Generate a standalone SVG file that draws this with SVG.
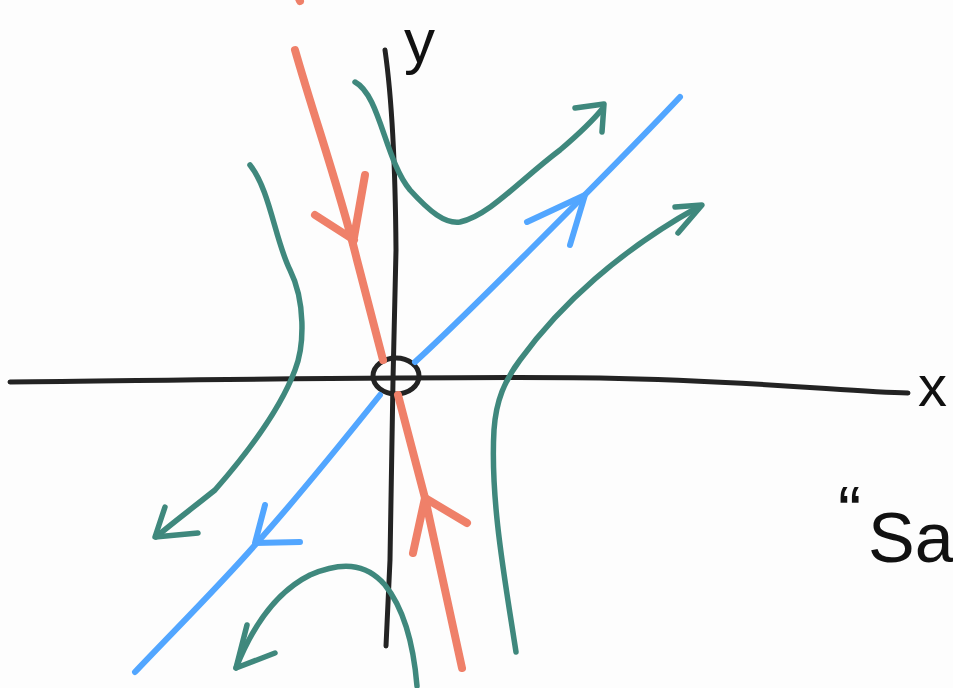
<svg xmlns="http://www.w3.org/2000/svg" width="953" height="688" viewBox="0 0 953 688">
<style>
.s{fill:none;stroke-linecap:round;stroke-linejoin:round}
.ax{stroke:#232323;stroke-width:5}
.red{stroke:#EF8069;stroke-width:8}
.blue{stroke:#52A6FF;stroke-width:6}
.teal{stroke:#3F887D;stroke-width:5.5}
.t{font-family:"Liberation Sans",Arial,sans-serif;fill:#111}
</style>
<rect width="953" height="688" fill="#FDFDFD"/>
<g id="axes">
<path class="s ax" d="M10,382 C200,380 450,376 600,378 C760,381 850,392 908,393"/>
<path class="s ax" d="M385,50 Q395,120 396,250 L393,380 L390,560 L386,646"/>
<ellipse class="s ax" cx="396" cy="376" rx="23" ry="18" stroke-width="6"/>
<text class="t" x="404" y="62" font-size="62">y</text>
<text class="t" x="918" y="406" font-size="58">x</text>
<text class="t" x="838" y="536" font-size="70">“</text>
<text class="t" x="868" y="562" font-size="70">Sad</text>
</g>
<g id="stable-manifold">
<path class="s red" d="M297,-6 L300,1"/>
<path class="s red" d="M295,50 C315,120 340,190 357,260 L383,360"/>
<path class="s red" d="M315,215 L354,240 M365,175 L353,243"/>
<path class="s red" d="M398,395 L425,498 L462,668"/>
<path class="s red" d="M413,553 L425,498 L467,523"/>
</g>
<g id="unstable-manifold">
<path class="s blue" d="M135,672 C170,635 220,585 255,545 C300,495 340,445 380,395"/>
<path class="s blue" d="M415,362 C450,330 480,300 530,250 C580,200 630,150 680,97"/>
<path class="s blue" d="M527,222 L585,195 L570,245"/>
<path class="s blue" d="M265,505 L255,543 L300,542"/>
</g>
<g id="trajectories">
<path class="s teal" d="M355,82 C380,95 385,160 410,190 C430,212 445,224 460,222 C490,215 520,180 560,150 C580,133 595,118 603,108"/>
<path class="s teal" d="M575,108 L604,104 L602,132"/>
<path class="s teal" d="M516,652 C505,580 490,500 494,430 C496,400 505,380 520,360 C560,305 620,250 700,206"/>
<path class="s teal" d="M675,207 L702,205 L678,233"/>
<path class="s teal" d="M250,165 C270,190 275,240 290,270 C305,300 305,345 295,370 C280,410 250,450 215,490 C190,510 170,525 156,537"/>
<path class="s teal" d="M165,507 L155,537 L198,533"/>
<path class="s teal" d="M417,686 C414,650 405,610 385,585 C365,562 340,562 310,575 C280,590 255,620 236,668"/>
<path class="s teal" d="M247,625 L236,668 L275,653"/>
</g>
</svg>
